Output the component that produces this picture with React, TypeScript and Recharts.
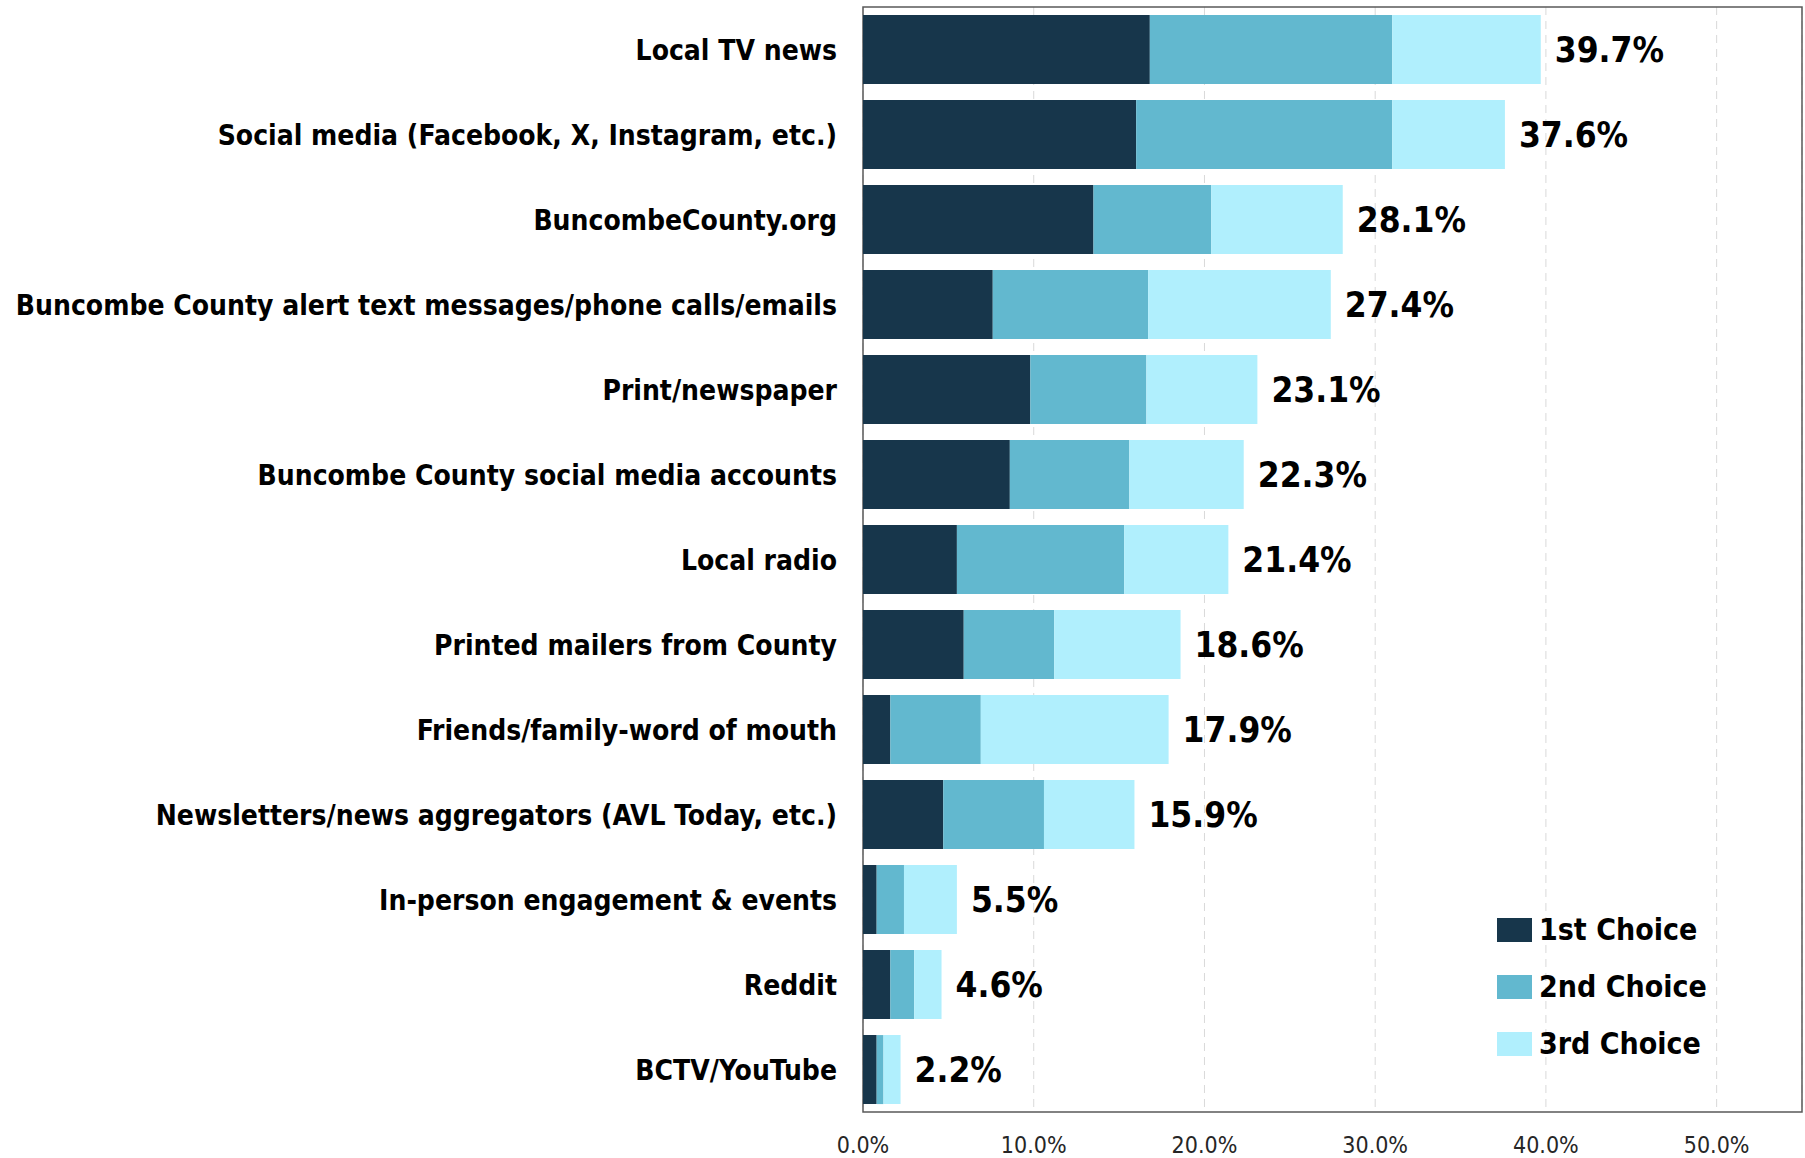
import { Bar, BarChart, CartesianGrid, LabelList, Legend, ReferenceArea, XAxis, YAxis } from "recharts";

const categories = [
  "Local TV news",
  "Social media (Facebook, X, Instagram, etc.)",
  "BuncombeCounty.org",
  "Buncombe County alert text messages/phone calls/emails",
  "Print/newspaper",
  "Buncombe County social media accounts ",
  "Local radio",
  "Printed mailers from County",
  "Friends/family-word of mouth",
  "Newsletters/news aggregators (AVL Today, etc.)",
  "In-person engagement & events",
  "Reddit",
  "BCTV/YouTube"
];

const firstChoice = [16.8, 16.0, 13.5, 7.6, 9.8, 8.6, 5.5, 5.9, 1.6, 4.7, 0.8, 1.6, 0.8];
const secondChoice = [14.2, 15.0, 6.9, 9.1, 6.8, 7.0, 9.8, 5.3, 5.3, 5.9, 1.6, 1.4, 0.4];
const thirdChoice = [8.7, 6.6, 7.7, 10.7, 6.5, 6.7, 6.1, 7.4, 11.0, 5.3, 3.1, 1.6, 1.0];
const totals = [39.7, 37.6, 28.1, 27.4, 23.1, 22.3, 21.4, 18.6, 17.9, 15.9, 5.5, 4.6, 2.2];

const xTicks = [0, 10, 20, 30, 40, 50];

const COLORS = { first: "#17364B", second: "#62B8CF", third: "#B0EFFD" };
const FONT = "'DejaVu Sans Condensed', 'DejaVu Sans', sans-serif";

const data = categories.map((name, i) => ({
  name,
  first: firstChoice[i],
  second: secondChoice[i],
  third: thirdChoice[i],
  total: totals[i]
}));

function CategoryTick(props: any) {
  const { x, y, payload } = props;
  return (
    <text
      x={x}
      y={y}
      dy="0.36em"
      textAnchor="end"
      fontFamily={FONT}
      fontWeight="bold"
      fontSize={28}
      fill="#000"
    >
      {payload.value}
    </text>
  );
}

function LegendBox(props: any) {
  const items = props.payload ?? [];
  return (
    <div style={{ fontFamily: FONT, fontWeight: "bold", fontSize: 30, color: "#000" }}>
      {items.map((item: any) => (
        <div key={item.value} style={{ display: "flex", alignItems: "center", height: 57 }}>
          <span style={{ width: 35, height: 24, background: item.color, marginRight: 7 }} />
          <span>{item.value}</span>
        </div>
      ))}
    </div>
  );
}

export default function App() {
  return (
    <div style={{ position: "absolute", left: 0, top: 0, background: "#fff" }}>
      <BarChart
        width={1805}
        height={1158}
        data={data}
        layout="vertical"
        barCategoryGap="9.5%"
        margin={{ top: 7, right: 3, bottom: 0, left: 8 }}
      >
        <CartesianGrid horizontal={false} stroke="#D9D9D9" strokeDasharray="8 6" />
        <XAxis
          type="number"
          domain={[0, 55]}
          ticks={xTicks}
          tickFormatter={(v: number) => `${v.toFixed(1)}%`}
          tick={{ fontFamily: FONT, fontSize: 23, fill: "#262626" }}
          tickLine={false}
          axisLine={false}
          height={46}
          tickMargin={19}
        />
        <YAxis
          type="category"
          dataKey="name"
          width={855}
          tick={<CategoryTick />}
          tickLine={false}
          axisLine={false}
          tickSize={0}
          tickMargin={26}
          interval={0}
        />
        <Legend
          layout="vertical"
          align="center"
          verticalAlign="middle"
          content={<LegendBox />}
          wrapperStyle={{ left: 1497, top: 901, width: 260 }}
        />
        <Bar dataKey="first" name="1st Choice" stackId="a" fill={COLORS.first} isAnimationActive={false} />
        <Bar dataKey="second" name="2nd Choice" stackId="a" fill={COLORS.second} isAnimationActive={false} />
        <Bar dataKey="third" name="3rd Choice" stackId="a" fill={COLORS.third} isAnimationActive={false}>
          <LabelList
            dataKey="total"
            position="right"
            offset={14}
            formatter={(v: number) => `${v.toFixed(1)}%`}
            fontFamily={FONT}
            fontWeight="bold"
            fontSize={35}
            fill="#000"
          />
        </Bar>
        <ReferenceArea x1={0} x2={55} fill="none" stroke="#595959" strokeWidth={1.5} ifOverflow="visible" />
      </BarChart>
    </div>
  );
}
